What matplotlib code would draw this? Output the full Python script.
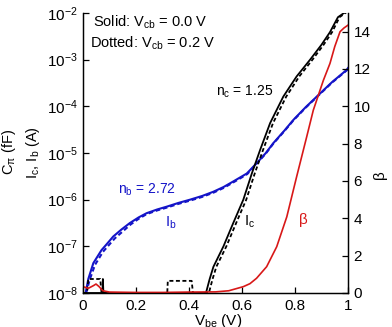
import numpy as np
import matplotlib
matplotlib.use("Agg")
import matplotlib.pyplot as plt

plt.rcParams['font.family'] = ['Liberation Sans', 'DejaVu Sans']
plt.rcParams['mathtext.fontset'] = 'custom'
plt.rcParams['mathtext.rm'] = 'Liberation Sans'
plt.rcParams['mathtext.it'] = 'Liberation Sans:italic'
plt.rcParams['mathtext.cal'] = 'Liberation Sans'

# ---- data (Vbe in V, log10 of current in A, beta) ----
ib_solid_v = [0.01, 0.02, 0.039, 0.07, 0.09, 0.114, 0.145, 0.177, 0.21, 0.24, 0.28, 0.316,
              0.36, 0.404, 0.45, 0.492, 0.53, 0.567, 0.6, 0.618, 0.655, 0.69, 0.718, 0.76,
              0.794, 0.84, 0.888, 0.94, 0.995, 1.0]
ib_solid_log = [-8.0, -7.7, -7.36, -7.08, -6.95, -6.79, -6.64, -6.5, -6.38, -6.29, -6.21, -6.15,
                -6.07, -6.0, -5.92, -5.83, -5.73, -5.61, -5.5, -5.44, -5.22, -5.0, -4.79, -4.52,
                -4.29, -4.02, -3.76, -3.48, -3.22, -3.18]
ib_dot_v = [0.012, 0.025, 0.045, 0.075, 0.095, 0.12, 0.15, 0.18, 0.21, 0.24, 0.28, 0.316,
            0.36, 0.404, 0.45, 0.492, 0.53, 0.567, 0.6, 0.62, 0.655, 0.69, 0.718, 0.76,
            0.794, 0.84, 0.888, 0.94, 0.995, 1.0]
ib_dot_log = [-8.0, -7.72, -7.4, -7.12, -6.99, -6.83, -6.68, -6.53, -6.41, -6.31, -6.23, -6.17,
              -6.09, -6.02, -5.94, -5.85, -5.75, -5.63, -5.52, -5.45, -5.23, -5.01, -4.8, -4.53,
              -4.3, -4.03, -3.77, -3.49, -3.23, -3.19]

ic_solid_v = [0.0, 0.073, 0.075, 0.077, 0.464, 0.478, 0.492, 0.53, 0.567, 0.605, 0.637, 0.668,
              0.706, 0.756, 0.806, 0.857, 0.9, 0.932, 0.962, 0.99]
ic_solid_log = [-8.0, -8.0, -7.7, -8.0, -8.0, -7.7, -7.44, -7.0, -6.5, -6.0, -5.44, -4.94,
                -4.36, -3.79, -3.36, -3.0, -2.68, -2.41, -2.09, -1.98]
ic_dot_v = [0.0, 0.015, 0.02, 0.065, 0.07, 0.318, 0.32, 0.41, 0.415, 0.475, 0.489, 0.503,
            0.541, 0.578, 0.616, 0.648, 0.679, 0.717, 0.767, 0.816, 0.866, 0.908, 0.94, 0.968, 0.995]
ic_dot_log = [-8.0, -8.0, -7.7, -7.7, -8.0, -8.0, -7.74, -7.74, -8.0, -8.0, -7.7, -7.44,
              -7.0, -6.5, -6.0, -5.44, -4.94, -4.36, -3.79, -3.36, -3.0, -2.68, -2.41, -2.09, -1.98]

beta_v = [0.0, 0.02, 0.04, 0.049, 0.06, 0.075, 0.1, 0.2, 0.3, 0.4, 0.5, 0.55, 0.605, 0.63,
          0.655, 0.693, 0.731, 0.769, 0.806, 0.844, 0.869, 0.907, 0.932, 0.95, 0.97, 0.985, 1.0]
beta_val = [0.34, 0.25, 0.4, 0.48, 0.35, 0.12, 0.05, 0.03, 0.03, 0.05, 0.06, 0.12, 0.34, 0.5,
            0.79, 1.41, 2.48, 4.08, 6.22, 8.36, 9.79, 11.39, 12.3, 13.2, 14.0, 14.2, 14.35]

x_ticks = [0, 0.2, 0.4, 0.6, 0.8, 1]
x_ticklabels = ['0', '0.2', '0.4', '0.6', '0.8', '1']
y_exps = [-8, -7, -6, -5, -4, -3, -2]
beta_ticks = [0, 2, 4, 6, 8, 10, 12, 14]

blue = '#1414c8'
red = '#d81818'

fig = plt.figure(figsize=(3.92, 3.27), dpi=100)
ax = fig.add_axes([83/392, 1-293/327, 265/392, 280/327])
ax2 = ax.twinx()

dash = (0, (2.2, 1.4))
ax.plot(ib_dot_v, 10**np.array(ib_dot_log), color=blue, lw=1.5, ls=dash)
ax.plot(ib_solid_v, 10**np.array(ib_solid_log), color=blue, lw=1.5)
ax.plot(ic_dot_v, 10**np.array(ic_dot_log), color='black', lw=1.3, ls=dash)
ax.plot(ic_solid_v, 10**np.array(ic_solid_log), color='black', lw=1.3)
ax2.plot(beta_v, beta_val, color=red, lw=1.2)

ax.set_yscale('log')
ax.set_xlim(0, 1)
ax.set_ylim(1e-8, 1e-2)
ax2.set_ylim(0, 15)
ax.set_xticks(x_ticks)
ax.set_xticklabels(x_ticklabels)
ax.set_yticks([10.0**e for e in y_exps])
ax.set_yticklabels([r'$10^{%d}$' % e for e in y_exps])
ax.yaxis.set_minor_locator(matplotlib.ticker.NullLocator())
ax2.set_yticks(beta_ticks)

for a in (ax, ax2):
    a.spines['top'].set_visible(False)
    for s in a.spines.values():
        s.set_linewidth(0.9)
ax.tick_params(axis='both', direction='in', length=4, width=0.9, labelsize=11, pad=4)
ax2.tick_params(axis='y', direction='in', length=4, width=0.9, labelsize=11, pad=4)

ax.text(0.038, 0.968, r'Solid: V$_{\mathrm{cb}}$ = 0.0 V', transform=ax.transAxes,
        fontsize=10.5, va='center', ha='left')
ax.text(0.026, 0.893, r'Dotted: V$_{\mathrm{cb}}$ = 0.2 V', transform=ax.transAxes,
        fontsize=10.5, va='center', ha='left')
ax.text(0.502, 0.718, r'n$_{\mathrm{c}}$ = 1.25', transform=ax.transAxes,
        fontsize=10, va='center', ha='left', color='black')
ax.text(0.131, 0.368, r'n$_{\mathrm{b}}$ = 2.72', transform=ax.transAxes,
        fontsize=10, va='center', ha='left', color=blue)
ax.text(0.309, 0.25, r'I$_{\mathrm{b}}$', transform=ax.transAxes,
        fontsize=10.5, va='center', ha='left', color=blue)
ax.text(0.608, 0.255, r'I$_{\mathrm{c}}$', transform=ax.transAxes,
        fontsize=10.5, va='center', ha='left', color='black')
ax.text(0.815, 0.26, 'β', transform=ax.transAxes,
        fontsize=11, va='center', ha='left', color=red)

fig.text(33/392, 1-153/327, r'I$_{\mathrm{c}}$, I$_{\mathrm{b}}$ (A)', rotation=90,
         ha='center', va='center', fontsize=10.5)
fig.text(9/392, 1-152/327, r'C$_{\mathrm{\pi}}$ (fF)', rotation=90,
         ha='center', va='center', fontsize=10.5)
fig.text(380/392, 1-175/327, 'β', rotation=90, ha='center', va='center', fontsize=11)
fig.text(218/392, 0.006, r'V$_{\mathrm{be}}$ (V)', ha='center', va='baseline', fontsize=11)

fig.savefig('out.png', dpi=100)
